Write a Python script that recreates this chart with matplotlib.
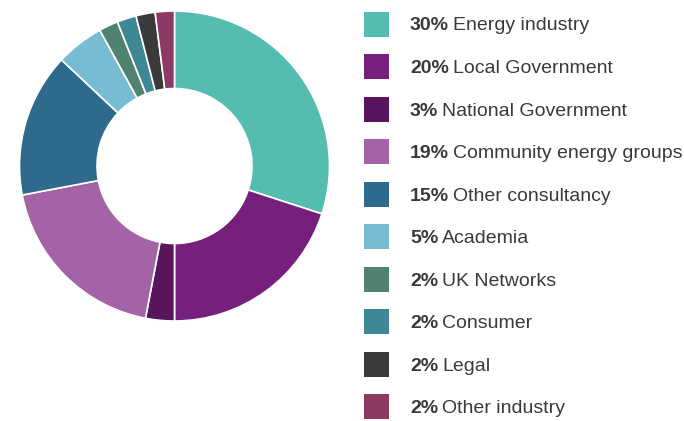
import matplotlib
matplotlib.use("Agg")
import matplotlib.pyplot as plt
from matplotlib.patches import Rectangle

labels = ["Energy industry", "Local Government", "National Government",
          "Community energy groups", "Other consultancy", "Academia",
          "UK Networks", "Consumer", "Legal", "Other industry"]
shares = [30, 20, 3, 19, 15, 5, 2, 2, 2, 2]
colors = ["#55bdb0", "#761f7c", "#58155e", "#a463a7", "#2d6a8c",
          "#78bcd4", "#4f8270", "#3e8794", "#3a3a3a", "#8c3a63"]

W, H = 684, 421
fig = plt.figure(figsize=(W / 100, H / 100), dpi=100)
plt.rcParams["font.family"] = ["Liberation Sans", "DejaVu Sans"]

# donut: centre (174.5, 166) px from top-left, radius 155 px
cx, cy, r = 174.5, 166, 155
ax = fig.add_axes([(cx - r) / W, (H - cy - r) / H, 2 * r / W, 2 * r / H])
ax.pie(shares, colors=colors, startangle=90, counterclock=False, radius=1,
       wedgeprops=dict(width=0.5, edgecolor="white", linewidth=1.2))
ax.set_xlim(-1, 1)
ax.set_ylim(-1, 1)
ax.set_aspect("equal")
ax.axis("off")

# legend, drawn by hand
fig.canvas.draw()
renderer = fig.canvas.get_renderer()
row0, step = 24, 42.55
for i, (lab, v, c) in enumerate(zip(labels, shares, colors)):
    yc = row0 + i * step
    fig.patches.append(Rectangle((364 / W, (H - yc - 12.5) / H), 25 / W, 25 / H,
                                 transform=fig.transFigure, facecolor=c,
                                 edgecolor="none"))
    ty = (H - yc - 2) / H
    t = fig.text(410 / W, ty, f"{v}%", fontsize=14, fontweight="bold",
                 color="#3a3a3a", va="center", ha="left")
    bb = t.get_window_extent(renderer)
    fig.text((bb.x1 + 4) / W, ty, lab, fontsize=14,
             color="#3a3a3a", va="center", ha="left")

fig.savefig("out.png", dpi=100)
